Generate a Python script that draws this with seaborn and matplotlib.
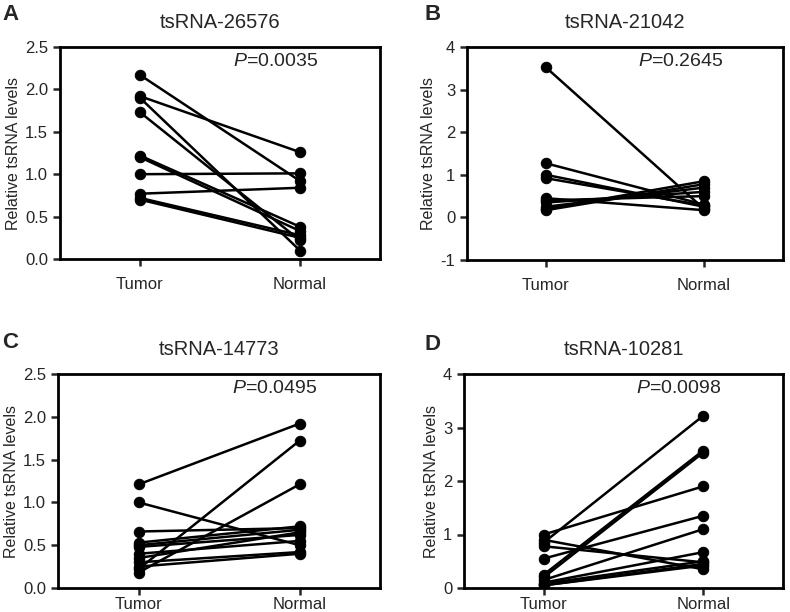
import pandas as pd
import matplotlib
matplotlib.use("Agg")
import matplotlib.pyplot as plt
import seaborn as sns

# paired values (tumor / matched normal)
groups = ["Tumor", "Normal"]

a_title = "tsRNA-26576"
a_tumor = [2.17, 1.92, 1.90, 1.73, 1.22, 1.20, 1.00, 0.77, 0.72, 0.70]
a_normal = [0.92, 1.26, 0.10, 0.22, 0.38, 0.33, 1.01, 0.84, 0.28, 0.25]
a_p = "0.0035"

b_title = "tsRNA-21042"
b_tumor = [3.52, 1.27, 1.00, 0.92, 0.45, 0.40, 0.35, 0.25, 0.20, 0.17]
b_normal = [0.20, 0.30, 0.25, 0.28, 0.17, 0.50, 0.60, 0.70, 0.85, 0.78]
b_p = "0.2645"

c_title = "tsRNA-14773"
c_tumor = [1.21, 1.00, 0.66, 0.53, 0.50, 0.48, 0.40, 0.35, 0.30, 0.25, 0.22, 0.18]
c_normal = [1.92, 0.50, 0.70, 0.72, 0.68, 0.62, 0.55, 0.65, 0.42, 0.40, 1.72, 1.21]
c_p = "0.0495"

d_title = "tsRNA-10281"
d_tumor = [1.00, 0.90, 0.85, 0.78, 0.55, 0.25, 0.20, 0.15, 0.10, 0.08, 0.05, 0.05]
d_normal = [1.90, 0.35, 3.22, 0.48, 1.35, 2.57, 2.53, 1.10, 0.67, 0.50, 0.45, 0.42]
d_p = "0.0098"


def to_long(tumor, normal):
    rows = []
    for i, (t, n) in enumerate(zip(tumor, normal)):
        rows.append({"group": groups[0], "value": t, "pair": i})
        rows.append({"group": groups[1], "value": n, "pair": i})
    return pd.DataFrame(rows)


sns.set_style("ticks")
plt.rcParams["font.family"] = ["Liberation Sans", "DejaVu Sans"]
plt.rcParams["mathtext.fontset"] = "custom"
plt.rcParams["mathtext.it"] = "Liberation Sans:italic"
plt.rcParams["mathtext.rm"] = "Liberation Sans"

fig = plt.figure(figsize=(7.9, 6.12), dpi=100)

# axes boxes in pixel terms: left, right, top, bottom
W, H = 790, 612
boxes = [(60, 380, 47, 259), (467, 783, 47, 260),
         (58, 380, 374, 588), (464, 783, 374, 588)]
# panel letter positions (pixels) and x tick label pad
letter_pos = [(2, 15), (425, 15), (2, 343), (425, 345)]
x_pads = [8, 8, 1.5, 1.5]

panels = [
    ("A", a_title, a_tumor, a_normal, a_p, (0, 2.5), [0, 0.5, 1.0, 1.5, 2.0, 2.5], "{:.1f}"),
    ("B", b_title, b_tumor, b_normal, b_p, (-1, 4), [-1, 0, 1, 2, 3, 4], "{:.0f}"),
    ("C", c_title, c_tumor, c_normal, c_p, (0, 2.5), [0, 0.5, 1.0, 1.5, 2.0, 2.5], "{:.1f}"),
    ("D", d_title, d_tumor, d_normal, d_p, (0, 4), [0, 1, 2, 3, 4], "{:.0f}"),
]

for k, (letter, title, tumor, normal, p, ylim, yticks, fmt) in enumerate(panels):
    l, r, t, b = boxes[k]
    ax = fig.add_axes([l / W, 1 - b / H, (r - l) / W, (b - t) / H])
    df = to_long(tumor, normal)
    sns.lineplot(
        data=df, x="group", y="value", units="pair", estimator=None,
        color="black", marker="o", markersize=7.5, markeredgecolor="black",
        linewidth=1.8, ax=ax, sort=False
    )
    ax.set_xlim(-0.5, 1.5)
    ax.set_ylim(*ylim)
    ax.set_yticks(yticks)
    ax.set_yticklabels([fmt.format(v) for v in yticks])
    ax.set_xticks([0, 1])
    ax.set_xticklabels(groups)
    ax.set_xlabel("")
    ax.set_ylabel("Relative tsRNA levels", fontsize=11.5, labelpad=3)
    ax.tick_params(axis="both", labelsize=12, width=1.8, length=5, direction="out")
    ax.tick_params(axis="x", pad=x_pads[k])
    for s in ax.spines.values():
        s.set_linewidth(2)
        s.set_color("black")
    ax.set_title(title, fontsize=14.5, pad=14)
    ax.text(0.54, 0.93, r"$\it{P}$=" + p, transform=ax.transAxes,
            fontsize=14, ha="left", va="center")
    lx, ly = letter_pos[k]
    fig.text(lx / W, 1 - ly / H, letter, fontsize=16, fontweight="bold",
             ha="left", va="center")

fig.savefig("out.png", dpi=100)
